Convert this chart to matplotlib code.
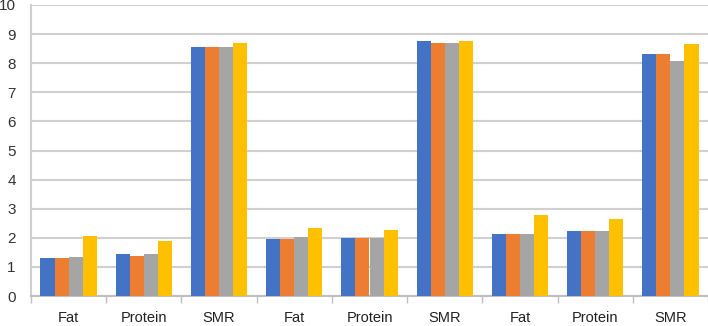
import matplotlib
matplotlib.use('Agg')
import matplotlib.pyplot as plt
import numpy as np

categories = ['Fat', 'Protein', 'SMR', 'Fat', 'Protein', 'SMR', 'Fat', 'Protein', 'SMR']
series_1 = [1.30, 1.44, 8.55, 1.95, 2.00, 8.77, 2.12, 2.24, 8.32]
series_2 = [1.30, 1.39, 8.55, 1.95, 2.00, 8.70, 2.12, 2.24, 8.32]
series_3 = [1.35, 1.44, 8.55, 2.02, 2.00, 8.70, 2.12, 2.24, 8.08]
series_4 = [2.07, 1.89, 8.70, 2.33, 2.26, 8.77, 2.78, 2.66, 8.67]
colors = ['#4472C4', '#ED7D31', '#A5A5A5', '#FFC000']

plt.rcParams['font.family'] = ['Liberation Sans', 'DejaVu Sans']

fig = plt.figure(figsize=(7.08, 3.26), dpi=100)
ax = fig.add_axes([31 / 708, 1 - 296 / 326, 1 - 31 / 708, 291 / 326])

x = np.arange(len(categories))
w = 0.75 / 4
for i, (vals, c) in enumerate(zip([series_1, series_2, series_3, series_4], colors)):
    ax.bar(x + (i - 1.5) * w, vals, width=w, color=c, zorder=3)

ax.set_xlim(-0.5, len(categories) - 0.5)
ax.set_ylim(0, 10)
ax.set_yticks(range(0, 11))
ax.set_xticks(x)
ax.set_xticklabels(categories)
ax.set_xticks(np.arange(-0.5, len(categories) + 0.5, 1), minor=True)
ax.tick_params(axis='x', which='major', length=0, pad=11, labelsize=10.5, labelcolor='#222222')
ax.tick_params(axis='x', which='minor', length=5, color='#BFBFBF', width=1)
ax.tick_params(axis='y', length=0, pad=11, labelsize=11, labelcolor='#333333')

ax.grid(axis='y', color='#D0D0D0', linewidth=1.5, zorder=0)
for s in ['top', 'right']:
    ax.spines[s].set_visible(False)
ax.spines['left'].set_color('#D0D0D0')
ax.spines['left'].set_linewidth(1.5)
ax.spines['bottom'].set_color('#BFBFBF')
ax.spines['bottom'].set_linewidth(1.5)

fig.savefig('out.png', dpi=100)
